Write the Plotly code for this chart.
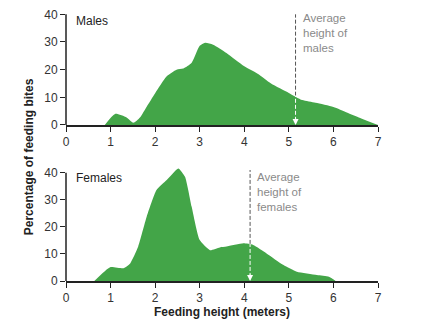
import plotly.graph_objects as go
from plotly.subplots import make_subplots

# Data
male_x = [0.87, 1.1, 1.36, 1.51, 1.66, 1.81, 2.0, 2.26, 2.48, 2.63, 2.82, 3.0, 3.12, 3.3, 3.6, 4.0, 4.3, 4.6, 5.0, 5.3, 5.6, 6.0, 6.3, 6.6, 7.0]
male_y = [0, 4, 2.7, 0.8, 2.7, 6.6, 11.5, 17.6, 20, 20.4, 22.5, 28.6, 29.7, 29, 26, 21.2, 18.5, 15, 11.6, 9, 8, 6.5, 4.5, 2.5, 0]
female_x = [0.635, 0.99, 1.29, 1.44, 1.62, 1.81, 2.03, 2.26, 2.52, 2.67, 2.82, 3.0, 3.23, 3.45, 3.6, 3.98, 4.2, 4.5, 4.88, 5.18, 5.63, 5.9, 6.05]
female_y = [0, 5.1, 4.7, 6.5, 12.7, 23.7, 33.6, 37.3, 41.6, 38.5, 27.4, 15.1, 11.4, 12.4, 12.7, 13.9, 13.3, 10.2, 5.9, 3.4, 2.2, 1.6, 0]
male_avg = 5.15
male_avg_at = 10.6
female_avg = 4.13
female_avg_at = 13.7
x_ticks = [0, 1, 2, 3, 4, 5, 6, 7]
y_ticks = [0, 10, 20, 30, 40]

GREEN = "#43a548"
GRAY = "#8a8a8a"
FONT = "Liberation Sans, Arial, sans-serif"
YMAX = 43

fig = make_subplots(rows=2, cols=1, vertical_spacing=0.05)

fig.add_trace(go.Scatter(x=male_x, y=male_y, mode="lines", line=dict(width=0, shape="spline", smoothing=0.6),
                         fill="tozeroy", fillcolor=GREEN, hoverinfo="skip"), row=1, col=1)
fig.add_trace(go.Scatter(x=female_x, y=female_y, mode="lines", line=dict(width=0, shape="spline", smoothing=0.5),
                         fill="tozeroy", fillcolor=GREEN, hoverinfo="skip"), row=2, col=1)

axis_common = dict(showgrid=False, zeroline=False,
                   ticks="outside", ticklen=5, tickwidth=1.2, tickcolor="#222",
                   tickfont=dict(family=FONT, size=12, color="#333"))

for r, dom in [(1, [0.5673, 1.0]), (2, [0.0, 0.4233])]:
    fig.update_xaxes(range=[0, 7], tickvals=x_ticks, showline=True, linecolor="#222", linewidth=1.5,
                     row=r, col=1, **axis_common)
    fig.update_yaxes(range=[0, YMAX], tickvals=y_ticks, domain=dom, showline=False, row=r, col=1, **axis_common)

# y axis lines ending at 40
for xref, yref in [("x domain", "y"), ("x2 domain", "y2")]:
    fig.add_shape(type="line", x0=0, x1=0, y0=0, y1=40, xref=xref, yref=yref,
                  line=dict(color="#222", width=1.5))

# average lines
for avg, at, yref, xref, top in [(male_avg, male_avg_at, "y", "x", 40), (female_avg, female_avg_at, "y2", "x2", 41)]:
    fig.add_shape(type="line", x0=avg, x1=avg, y0=at, y1=top, xref=xref, yref=yref,
                  line=dict(color="#555", width=1, dash="4px,2px"))
    fig.add_shape(type="line", x0=avg, x1=avg, y0=1.5, y1=at, xref=xref, yref=yref,
                  line=dict(color="white", width=1, dash="4px,2px"))
    fig.add_annotation(x=avg, y=0, ax=avg, ay=3, xref=xref, yref=yref, axref=xref, ayref=yref,
                       text="", showarrow=True, arrowhead=2, arrowsize=1, arrowwidth=1.2, arrowcolor="white")

fig.add_annotation(x=male_avg + 0.12, y=41.5, xref="x", yref="y", xanchor="left", yanchor="top",
                   text="Average<br>height of<br>males", showarrow=False, align="left",
                   font=dict(family=FONT, size=11.5, color=GRAY))
fig.add_annotation(x=female_avg + 0.12, y=41.5, xref="x2", yref="y2", xanchor="left", yanchor="top",
                   text="Average<br>height of<br>females", showarrow=False, align="left",
                   font=dict(family=FONT, size=11.5, color=GRAY))

fig.add_annotation(x=0.18, y=37.5, xref="x", yref="y", xanchor="left", yanchor="middle", text="Males",
                   showarrow=False, font=dict(family=FONT, size=12, color="#222"))
fig.add_annotation(x=0.18, y=38, xref="x2", yref="y2", xanchor="left", yanchor="middle", text="Females",
                   showarrow=False, font=dict(family=FONT, size=12, color="#222"))

fig.add_annotation(x=(29 - 66) / 312, y=0.45, xref="paper", yref="paper", xanchor="center", yanchor="middle",
                   text="<b>Percentage of feeding bites</b>", textangle=-90, showarrow=False,
                   font=dict(family=FONT, size=12, color="#222"))
fig.add_annotation(x=(222 - 66) / 312, y=-(312 - 281) / 275, xref="paper", yref="paper", xanchor="center",
                   yanchor="middle", text="<b>Feeding height (meters)</b>", showarrow=False,
                   font=dict(family=FONT, size=12, color="#222"))

fig.update_layout(width=439, height=324, margin=dict(l=66, r=61, t=6, b=43),
                  paper_bgcolor="white", plot_bgcolor="white", showlegend=False)

fig.write_html("out.html")
